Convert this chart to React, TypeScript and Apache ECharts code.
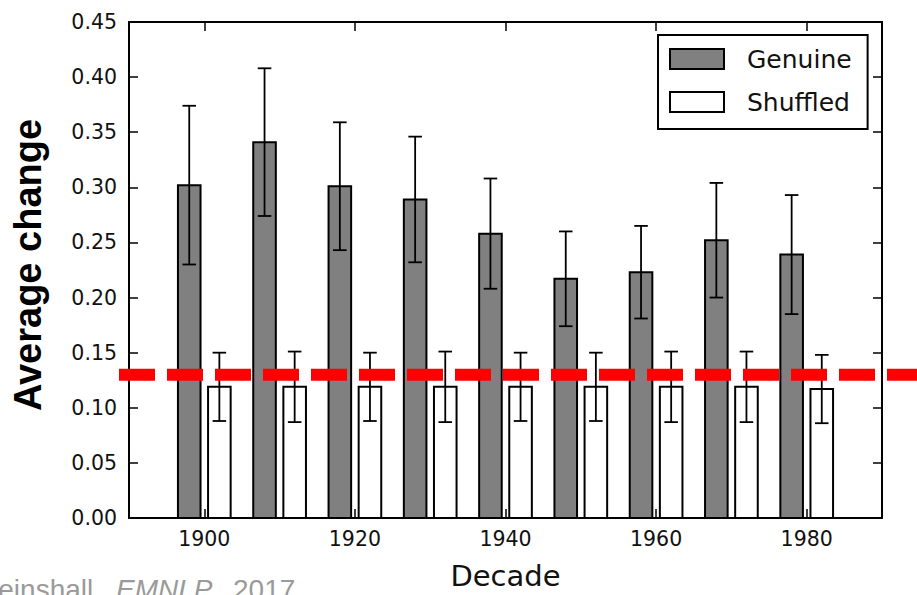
import React, { useEffect, useRef } from 'react';
import * as echarts from 'echarts';

const decades = [1900, 1910, 1920, 1930, 1940, 1950, 1960, 1970, 1980];
const genuine = [0.302, 0.341, 0.301, 0.289, 0.258, 0.217, 0.223, 0.252, 0.239];
const genuineErr = [0.072, 0.067, 0.058, 0.057, 0.05, 0.043, 0.042, 0.052, 0.054];
const shuffled = [0.119, 0.119, 0.119, 0.119, 0.119, 0.119, 0.119, 0.119, 0.117];
const shuffledErr = [0.031, 0.032, 0.031, 0.032, 0.031, 0.031, 0.032, 0.032, 0.031];
const xTickValues = [1900, 1920, 1940, 1960, 1980];
const threshold = 0.13;
const seriesNames = ['Genuine', 'Shuffled'];
const citation = ['Weinshall,', 'EMNLP', '2017'];

const BAR_OFFSET = 2; // years from decade to bar centre
const BAR_W = 3; // years
const CAP = 0.9; // half cap width in years

const TICK_FONT = '"DejaVu Sans", "Bitstream Vera Sans", sans-serif';
const ARIAL = '"Liberation Sans", Arial, sans-serif';

export default function App() {
  const ref = useRef<HTMLDivElement>(null);

  useEffect(() => {
    const chart = echarts.init(ref.current!, null, { renderer: 'svg' });

    const barRender = (fill: string) => (params: any, api: any) => {
      const x = api.value(0) as number;
      const v = api.value(1) as number;
      const tl = api.coord([x - BAR_W / 2, v]);
      const br = api.coord([x + BAR_W / 2, 0]);
      return {
        type: 'rect',
        shape: { x: tl[0], y: tl[1], width: br[0] - tl[0], height: br[1] - tl[1] },
        style: { fill, stroke: '#000', lineWidth: 2 },
      };
    };

    const errRender = (params: any, api: any) => {
      const x = api.value(0) as number;
      const lo = api.value(1) as number;
      const hi = api.value(2) as number;
      const pHi = api.coord([x, hi]);
      const pLo = api.coord([x, lo]);
      const hL = api.coord([x - CAP, hi]);
      const hR = api.coord([x + CAP, hi]);
      const lL = api.coord([x - CAP, lo]);
      const lR = api.coord([x + CAP, lo]);
      const st = { stroke: '#000', lineWidth: 1.8 };
      return {
        type: 'group',
        children: [
          { type: 'line', shape: { x1: pHi[0], y1: pHi[1], x2: pLo[0], y2: pLo[1] }, style: st },
          { type: 'line', shape: { x1: hL[0], y1: hL[1], x2: hR[0], y2: hR[1] }, style: st },
          { type: 'line', shape: { x1: lL[0], y1: lL[1], x2: lR[0], y2: lR[1] }, style: st },
        ],
      };
    };

    const axisLine = { show: true, onZero: false, lineStyle: { color: '#000', width: 2 } };
    const tickStyle = { color: '#000', width: 1.5 };

    const option: any = {
      animation: false,
      backgroundColor: '#fff',
      grid: { left: 129, top: 22, right: 35, bottom: 72, containLabel: false },
      xAxis: [
        {
          type: 'value',
          position: 'bottom',
          min: 1890,
          max: 1990,
          axisLine,
          axisTick: { show: true, inside: true, length: 9, customValues: xTickValues, lineStyle: tickStyle },
          axisLabel: {
            customValues: xTickValues,
            formatter: (v: number) => String(Math.round(v)),
            color: '#111',
            fontSize: 20.5,
            fontFamily: TICK_FONT,
            margin: 10,
          },
          splitLine: { show: false },
          name: 'Decade',
          nameLocation: 'middle',
          nameGap: 43,
          nameTextStyle: { fontFamily: TICK_FONT, fontSize: 29, color: '#111' },
        },
        {
          type: 'value',
          position: 'top',
          min: 1890,
          max: 1990,
          axisLine,
          axisTick: { show: true, inside: true, length: 9, customValues: xTickValues, lineStyle: tickStyle },
          axisLabel: { show: false },
          splitLine: { show: false },
        },
      ],
      yAxis: [
        {
          type: 'value',
          position: 'left',
          min: 0,
          max: 0.45,
          interval: 0.05,
          axisLine,
          axisTick: { show: true, inside: true, length: 9, lineStyle: tickStyle },
          axisLabel: {
            formatter: (v: number) => v.toFixed(2),
            color: '#111',
            fontSize: 20.5,
            fontFamily: TICK_FONT,
            margin: 12,
          },
          splitLine: { show: false },
        },
        {
          type: 'value',
          position: 'right',
          min: 0,
          max: 0.45,
          interval: 0.05,
          axisLine,
          axisTick: { show: true, inside: true, length: 9, lineStyle: tickStyle },
          axisLabel: { show: false },
          splitLine: { show: false },
        },
      ],
      legend: {
        orient: 'vertical',
        left: 658,
        top: 35,
        padding: [9, 16, 12, 11],
        itemGap: 13,
        itemWidth: 54,
        itemHeight: 20,
        icon: 'rect',
        borderColor: '#000',
        borderWidth: 2,
        borderRadius: 0,
        backgroundColor: '#fff',
        selectedMode: false,
        textStyle: {
          fontFamily: TICK_FONT,
          fontSize: 25,
          color: '#111',
          lineHeight: 30,
          padding: [0, 0, 0, 18],
        },
        data: [
          { name: seriesNames[0], itemStyle: { color: '#808080', borderColor: '#000', borderWidth: 2 } },
          { name: seriesNames[1], itemStyle: { color: '#ffffff', borderColor: '#000', borderWidth: 2 } },
        ],
      },
      series: [
        {
          name: seriesNames[0],
          type: 'custom',
          xAxisIndex: 0,
          yAxisIndex: 0,
          itemStyle: { color: '#808080', borderColor: '#000', borderWidth: 2 },
          renderItem: barRender('#808080'),
          encode: { x: 0, y: 1 },
          data: decades.map((d, i) => [d - BAR_OFFSET, genuine[i]]),
          z: 2,
        },
        {
          name: seriesNames[1],
          type: 'custom',
          xAxisIndex: 0,
          yAxisIndex: 0,
          itemStyle: { color: '#ffffff', borderColor: '#000', borderWidth: 2 },
          renderItem: barRender('#ffffff'),
          encode: { x: 0, y: 1 },
          data: decades.map((d, i) => [d + BAR_OFFSET, shuffled[i]]),
          z: 2,
        },
        {
          name: 'genuine-err',
          type: 'custom',
          xAxisIndex: 0,
          yAxisIndex: 0,
          renderItem: errRender,
          encode: { x: 0, y: [1, 2] },
          data: decades.map((d, i) => [d - BAR_OFFSET, genuine[i] - genuineErr[i], genuine[i] + genuineErr[i]]),
          z: 3,
        },
        {
          name: 'shuffled-err',
          type: 'custom',
          xAxisIndex: 0,
          yAxisIndex: 0,
          renderItem: errRender,
          encode: { x: 0, y: [1, 2] },
          data: decades.map((d, i) => [d + BAR_OFFSET, shuffled[i] - shuffledErr[i], shuffled[i] + shuffledErr[i]]),
          z: 3,
        },
      ],
    };

    chart.setOption(option);

    const yPix = chart.convertToPixel({ yAxisIndex: 0 }, threshold) as number;

    const citeStyle = { fontFamily: ARIAL, fontSize: 28, fill: '#9a9a9a', verticalAlign: 'middle' };
    const citeY = 589;

    chart.setOption({
      graphic: [
        {
          type: 'line',
          z: 100,
          shape: { x1: 119, y1: yPix, x2: 917, y2: yPix },
          style: { stroke: '#ff0000', lineWidth: 12, lineDash: [36, 12], lineCap: 'butt' },
        },
        {
          type: 'text',
          x: 28,
          y: 265,
          rotation: Math.PI / 2,
          style: {
            text: 'Average change',
            fontFamily: ARIAL,
            fontWeight: 'bold',
            fontSize: 38,
            fill: '#000',
            align: 'center',
            verticalAlign: 'middle',
          },
        },
        {
          type: 'text',
          x: 101,
          y: citeY,
          style: { ...citeStyle, text: citation[0], align: 'right' },
        },
        {
          type: 'text',
          x: 116,
          y: citeY,
          style: { ...citeStyle, text: citation[1], fontStyle: 'italic', align: 'left' },
        },
        {
          type: 'text',
          x: 233,
          y: citeY,
          style: { ...citeStyle, text: citation[2], align: 'left' },
        },
      ],
    });

    return () => chart.dispose();
  }, []);

  return (
    <div
      ref={ref}
      style={{ position: 'fixed', left: 0, top: 0, width: 917, height: 595, background: '#fff' }}
    />
  );
}
